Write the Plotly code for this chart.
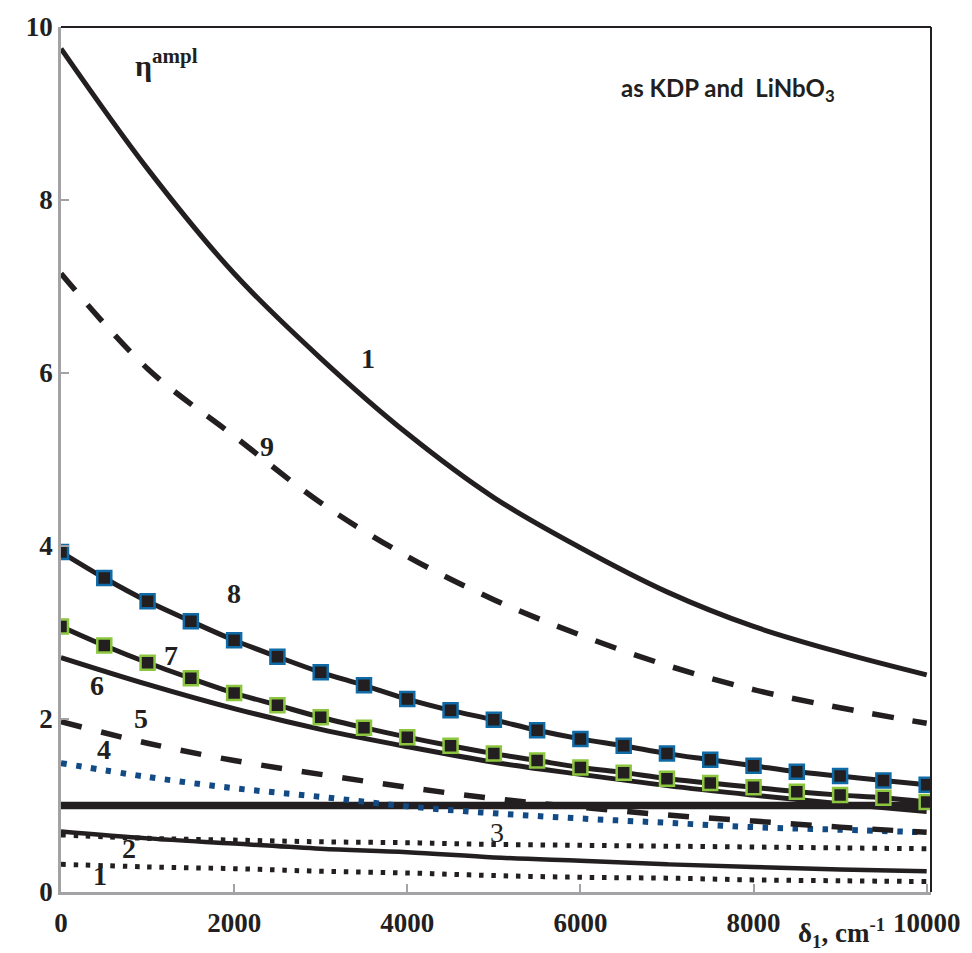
import plotly.graph_objects as go

# ---------------- data ----------------
x_k = [0, 1000, 2000, 3000, 4000, 5000, 6000, 7000, 8000, 9000, 10000]
x_half = [0, 500, 1000, 1500, 2000, 2500, 3000, 3500, 4000, 4500, 5000,
          5500, 6000, 6500, 7000, 7500, 8000, 8500, 9000, 9500, 10000]

curve1_top = [9.75, 8.36, 7.15, 6.17, 5.30, 4.56, 3.98, 3.47, 3.07, 2.77, 2.51]
curve9 = [7.15, 6.05, 5.27, 4.50, 3.88, 3.38, 2.97, 2.62, 2.34, 2.13, 1.95]
curve8 = [3.93, 3.63, 3.36, 3.13, 2.91, 2.72, 2.54, 2.39, 2.23, 2.10, 1.99,
          1.87, 1.77, 1.69, 1.60, 1.53, 1.46, 1.39, 1.34, 1.29, 1.24]
curve7 = [3.07, 2.85, 2.65, 2.47, 2.30, 2.16, 2.02, 1.90, 1.79, 1.69, 1.60,
          1.52, 1.44, 1.38, 1.31, 1.26, 1.21, 1.16, 1.12, 1.09, 1.04]
curve6 = [2.71, 2.40, 2.12, 1.88, 1.68, 1.50, 1.36, 1.23, 1.12, 1.02, 0.93]
curve5 = [1.97, 1.72, 1.52, 1.36, 1.21, 1.08, 0.98, 0.89, 0.82, 0.75, 0.69]
curve4 = [1.49, 1.33, 1.20, 1.10, 0.99, 0.91, 0.85, 0.80, 0.75, 0.72, 0.69]
curve3 = [1.0, 1.0, 1.0, 1.0, 1.0, 1.0, 1.0, 1.0, 1.0, 1.0, 1.0]
curve2 = [0.70, 0.62, 0.56, 0.50, 0.46, 0.40, 0.36, 0.32, 0.29, 0.26, 0.24]
curve2_dot = [0.66, 0.62, 0.60, 0.58, 0.57, 0.55, 0.54, 0.53, 0.52, 0.51, 0.50]
curve1_dot = [0.32, 0.29, 0.27, 0.24, 0.22, 0.19, 0.17, 0.16, 0.14, 0.13, 0.12]

x_ticks = [0, 2000, 4000, 6000, 8000, 10000]
y_ticks = [0, 2, 4, 6, 8, 10]

curve_labels = ["1", "9", "8", "7", "6", "5", "4", "3", "2", "1"]
label_x = [3544, 2374, 1995, 1273, 413, 929, 493, 5034, 791, 447]
label_y = [6.17, 5.15, 3.45, 2.73, 2.39, 2.01, 1.65, 0.69, 0.50, 0.19]

# ---------------- styles ----------------
BLACK = "#231f20"
DOT_BLUE = "#114a84"
EDGE_BLUE = "#0f6aa6"
EDGE_GREEN = "#8cc63f"
SERIF = "Liberation Serif"
SMOOTH = 1.0

fig = go.Figure()

def line(x, y, width, dash="solid", color=BLACK):
    fig.add_trace(go.Scatter(x=x, y=y, mode="lines",
                             line=dict(color=color, width=width, dash=dash,
                                       shape="spline", smoothing=SMOOTH),
                             showlegend=False, hoverinfo="skip"))

line(x_k, curve1_dot, 5, dash="4.5px,7.8px")
line(x_k, curve2_dot, 5, dash="4.5px,7.8px")
line(x_k, curve2, 4.5)
line(x_k, curve3, 7.5)
line(x_k, curve4, 6, dash="5.5px,9.5px", color=DOT_BLUE)
line(x_k, curve5, 5.5, dash="21px,20px")
line(x_k, curve6, 5)
line(x_k, curve9, 5.5, dash="22px,19px")
line(x_k, curve1_top, 5)

for ys, edge in ((curve7, EDGE_GREEN), (curve8, EDGE_BLUE)):
    fig.add_trace(go.Scatter(x=x_half, y=ys, mode="lines+markers",
                             line=dict(color=BLACK, width=5, shape="spline",
                                       smoothing=SMOOTH),
                             marker=dict(symbol="square", size=14, color=BLACK,
                                         line=dict(color=edge, width=2.5)),
                             showlegend=False, hoverinfo="skip"))

# curve labels
for t, lx, ly in zip(curve_labels, label_x, label_y):
    fig.add_annotation(x=lx, y=ly, text=t, showarrow=False,
                       font=dict(family=SERIF, size=28, color=BLACK,
                                 weight="normal" if t == "3" else "bold"))

# frame: top and right black
fig.add_shape(type="line", xref="paper", yref="paper", x0=0, x1=1, y0=1, y1=1,
              line=dict(color=BLACK, width=2))
fig.add_shape(type="line", xref="paper", yref="paper", x0=1, x1=1, y0=0, y1=1,
              line=dict(color=BLACK, width=2))

# texts
fig.add_annotation(xref="paper", yref="paper", x=0.083, y=0.958,
                   text="η<sup>ampl</sup>", showarrow=False,
                   xanchor="left", yanchor="middle",
                   font=dict(family=SERIF, size=30, color=BLACK, weight="bold"))
fig.add_annotation(xref="paper", yref="paper", x=0.892, y=0.928,
                   text="as KDP and  LiNbO<sub>3</sub>", showarrow=False,
                   xanchor="right", yanchor="middle",
                   font=dict(family="Lato", size=24, color=BLACK, weight="bold"))
fig.add_annotation(xref="paper", yref="paper", x=0.897, y=0, yshift=-41,
                   text="δ<sub>1</sub>, cm<sup>-1</sup>", showarrow=False,
                   xanchor="center", yanchor="middle",
                   font=dict(family=SERIF, size=27, color=BLACK, weight="bold"))

axis_common = dict(showgrid=False, zeroline=False, showline=True,
                   linecolor="#a3a3a6", linewidth=2.5, ticks="inside",
                   ticklen=8, tickwidth=1.5, tickcolor="#a3a3a6",
                   tickfont=dict(family=SERIF, size=27, color=BLACK, weight="bold"))

fig.update_xaxes(range=[0, 10050], tickvals=x_ticks,
                 ticktext=[str(v) for v in x_ticks], ticklabelstandoff=5,
                 **axis_common)
fig.update_yaxes(range=[0, 10], tickvals=y_ticks,
                 ticktext=[str(v) for v in y_ticks], ticklabelstandoff=0,
                 **axis_common)

fig.update_layout(width=972, height=953, plot_bgcolor="white",
                  paper_bgcolor="white",
                  margin=dict(l=61, r=35, t=16, b=61))

fig.write_html("out.html")
